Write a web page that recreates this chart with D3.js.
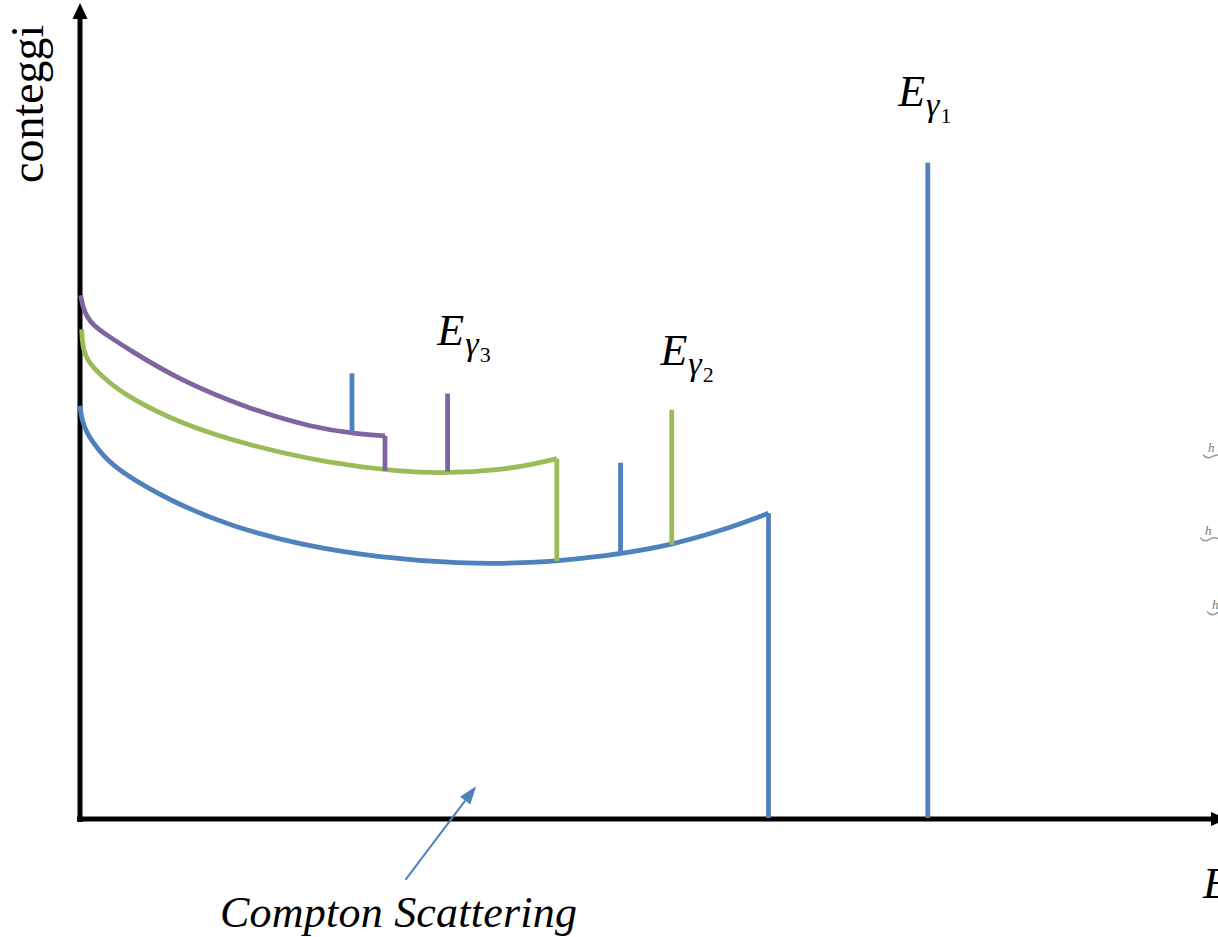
<!DOCTYPE html>
<html>
<head>
<meta charset="utf-8">
<script src="https://cdn.jsdelivr.net/npm/d3@7"></script>
<style>
  html, body { margin: 0; padding: 0; background: #fff; }
  svg { display: block; }
</style>
</head>
<body>
<div class="chart"></div>
<script>
// energy (arbitrary units, 0-100) and counts (arbitrary units, 0-100)
const blueCurve = [
  [0, 50.7], [0.15, 49.0], [0.59, 47.4], [1.05, 46.4], [2.0, 44.6], [3.5, 42.6], [7.9, 39.0],
  [13.2, 35.9], [19.3, 33.6], [26.4, 32.0], [33.4, 31.3], [39.0, 31.3], [44.0, 31.9],
  [48.0, 32.6], [52.0, 33.6], [56.2, 35.3], [58.5, 36.4], [60.5, 37.5]
];
const greenCurve = [
  [0.15, 60.1], [0.24, 57.8], [0.59, 56.5], [1.17, 55.4], [2.35, 53.8], [4.1, 51.9],
  [8.8, 48.5], [14.9, 45.8], [22.0, 43.6], [28.1, 42.6], [32.3, 42.4], [36.9, 42.8],
  [39.8, 43.5], [41.9, 44.2]
];
const purpleCurve = [
  [0.06, 64.3], [0.24, 62.9], [0.59, 61.7], [1.17, 60.6], [2.35, 59.4], [4.1, 57.8],
  [8.8, 53.8], [14.9, 50.3], [20.5, 48.0], [24.5, 47.2], [26.8, 47.0]
];

// vertical lines: energy, top counts, bottom counts, colour key
const peaks = [
  { e: 60.5, top: 37.5, base: 0, c: 'blue' },     // compton edge 1
  { e: 41.9, top: 44.2, base: 31.6, c: 'green' }, // compton edge 2
  { e: 26.8, top: 47.0, base: 42.7, c: 'purple' },// compton edge 3
  { e: 23.9, top: 54.7, base: 47.4, c: 'blue' },
  { e: 32.3, top: 52.2, base: 42.6, c: 'purple' },
  { e: 47.5, top: 43.7, base: 32.6, c: 'blue' },
  { e: 52.0, top: 50.2, base: 33.6, c: 'green' },
  { e: 74.5, top: 80.6, base: 0, c: 'blue' }
];

// peak labels: energy / counts of the label start, subscript index
const peakLabels = [
  { e: 71.9, y: 87.6, sub: '1' },
  { e: 31.4, y: 58.2, sub: '3' },
  { e: 51.0, y: 55.7, sub: '2' }
];

// compton arrow: from / to
const comptonArrow = [[28.6, -7.6], [34.8, 3.9]];

// faint cut-off marks on the right edge (counts)
const edgeMarks = [45.3, 35.1, 26.0];

const colors = { blue: '#4F81BD', green: '#9BBB59', purple: '#8064A2' };

const width = 1218;
const height = 937;

const svg = d3.select('.chart')
    .append('svg')
    .attr('width', width)
    .attr('height', height);

const x = d3.scaleLinear().domain([0, 100]).range([80, 1218]);
const y = d3.scaleLinear().domain([0, 100]).range([818, 5]);

const serif = '"Liberation Serif", "Times New Roman", serif';

// axes (plain lines with arrow heads)
const xAxis = d3.axisBottom(x).tickValues([]).tickSizeOuter(0);
const yAxis = d3.axisLeft(y).tickValues([]).tickSizeOuter(0);
svg.append('g').attr('transform', `translate(0,${y(0) + 1})`).call(xAxis)
    .select('.domain').attr('stroke', 'none');
svg.append('g').attr('transform', `translate(${x(0)},0)`).call(yAxis)
    .select('.domain').attr('stroke', 'none');

svg.append('line')
    .attr('x1', x(0) - 3).attr('x2', 1214)
    .attr('y1', y(0) + 1).attr('y2', y(0) + 1)
    .attr('stroke', '#000').attr('stroke-width', 5);
svg.append('path')
    .attr('d', `M1211,${y(0) - 6}L1228,${y(0) + 1}L1211,${y(0) + 8}Z`)
    .attr('fill', '#000');

svg.append('line')
    .attr('x1', x(0)).attr('x2', x(0))
    .attr('y1', y(0) + 4).attr('y2', 17)
    .attr('stroke', '#000').attr('stroke-width', 5);
svg.append('path')
    .attr('d', `M${x(0) - 7.5},19L${x(0)},3L${x(0) + 7.5},19Z`)
    .attr('fill', '#000');

// compton curves
const line = d3.line()
    .x(d => x(d[0]))
    .y(d => y(d[1]))
    .curve(d3.curveBasis);

[[blueCurve, 'blue'], [greenCurve, 'green'], [purpleCurve, 'purple']].forEach(([pts, c]) => {
  svg.append('path')
      .attr('d', line(pts))
      .attr('fill', 'none')
      .attr('stroke', colors[c])
      .attr('stroke-width', 4.8);
});

// vertical lines
svg.selectAll('.peak')
    .data(peaks)
    .enter()
    .append('line')
    .attr('class', 'peak')
    .attr('x1', d => x(d.e)).attr('x2', d => x(d.e))
    .attr('y1', d => y(d.top)).attr('y2', d => y(d.base))
    .attr('stroke', d => colors[d.c])
    .attr('stroke-width', 4.8);

// peak labels E_gamma_n
const lbl = svg.selectAll('.plabel')
    .data(peakLabels)
    .enter()
    .append('text')
    .attr('class', 'plabel')
    .attr('x', d => x(d.e))
    .attr('y', d => y(d.y))
    .style('font-family', serif)
    .attr('fill', '#000');
lbl.append('tspan').text('E').style('font-size', '44px').style('font-style', 'italic');
lbl.append('tspan').text('γ').attr('dx', 1).attr('dy', 10)
    .style('font-size', '34px').style('font-style', 'italic');
lbl.append('tspan').text(d => d.sub).attr('dx', 1).attr('dy', 7)
    .style('font-size', '22px');

// y axis title
svg.append('text')
    .attr('transform', 'translate(43,183) rotate(-90)')
    .text('conteggi')
    .style('font-family', serif)
    .style('font-size', '46px')
    .attr('fill', '#000');

// x axis title (cut off at the edge, as in the original)
svg.append('text')
    .attr('x', 1203).attr('y', 898)
    .text('E')
    .style('font-family', serif)
    .style('font-size', '44px')
    .style('font-style', 'italic')
    .attr('fill', '#000');

// compton arrow
const a0 = [x(comptonArrow[0][0]), y(comptonArrow[0][1])];
const a1 = [x(comptonArrow[1][0]), y(comptonArrow[1][1])];
const ang = Math.atan2(a1[1] - a0[1], a1[0] - a0[0]);
const headLen = 18, headW = 6.5;
const hb = [a1[0] - headLen * Math.cos(ang), a1[1] - headLen * Math.sin(ang)];
svg.append('line')
    .attr('x1', a0[0]).attr('y1', a0[1])
    .attr('x2', hb[0]).attr('y2', hb[1])
    .attr('stroke', colors.blue).attr('stroke-width', 2);
svg.append('path')
    .attr('d', `M${a1[0]},${a1[1]}` +
      `L${hb[0] + headW * Math.sin(ang)},${hb[1] - headW * Math.cos(ang)}` +
      `L${hb[0] - headW * Math.sin(ang)},${hb[1] + headW * Math.cos(ang)}Z`)
    .attr('fill', colors.blue);

svg.append('text')
    .attr('x', 220).attr('y', 927)
    .text('Compton Scattering')
    .attr('textLength', 357)
    .style('font-family', serif)
    .style('font-size', '44px')
    .style('font-style', 'italic')
    .attr('fill', '#000');

// faint marks on the right edge
const marks = svg.selectAll('.emark')
    .data(edgeMarks)
    .enter()
    .append('g')
    .attr('class', 'emark')
    .attr('transform', (d, i) => `translate(${1207 - (i === 1 ? 3 : 0) + (i === 2 ? 4 : 0)},${y(d)})`);
marks.append('text')
    .text('h')
    .attr('x', 1).attr('y', 2)
    .style('font-family', serif)
    .style('font-size', '13px')
    .style('font-style', 'italic')
    .attr('fill', '#777');
marks.append('path')
    .attr('d', 'M-4,5 Q0,10 5,7 T14,6')
    .attr('fill', 'none')
    .attr('stroke', '#999')
    .attr('stroke-width', 1.5);
</script>
</body>
</html>
